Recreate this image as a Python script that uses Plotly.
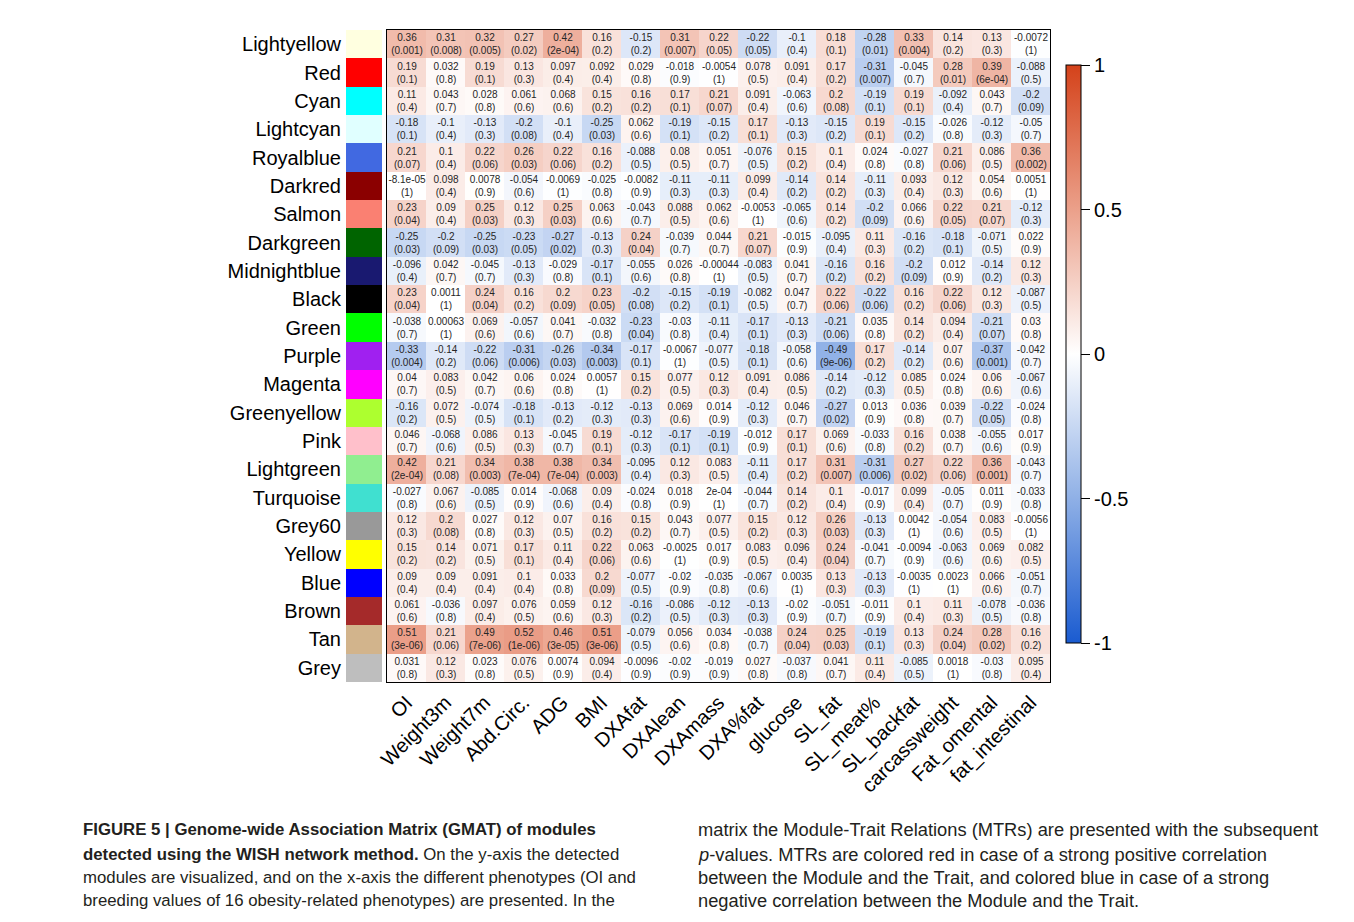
import numpy as np
import plotly.graph_objects as go

modules = ["Lightyellow", "Red", "Cyan", "Lightcyan", "Royalblue", "Darkred", "Salmon",
           "Darkgreen", "Midnightblue", "Black", "Green", "Purple", "Magenta", "Greenyellow",
           "Pink", "Lightgreen", "Turquoise", "Grey60", "Yellow", "Blue", "Brown", "Tan", "Grey"]
module_colors = ["#ffffe0", "#ff0000", "#00ffff", "#e0ffff", "#4169e1", "#8b0000", "#fa8072",
                 "#006400", "#191970", "#000000", "#00ff00", "#a020f0", "#ff00ff", "#adff2f",
                 "#ffc0cb", "#90ee90", "#40e0d0", "#999999", "#ffff00", "#0000ff", "#a52a2a",
                 "#d2b48c", "#bebebe"]
traits = ["OI", "Weight3m", "Weight7m", "Abd.Circ.", "ADG", "BMI", "DXAfat", "DXAlean",
          "DXAmass", "DXA%fat", "glucose", "SL_fat", "SL_meat%", "SL_backfat",
          "carcassweight", "Fat_omental", "fat_intestinal"]

corr = [
    [0.36, 0.31, 0.32, 0.27, 0.42, 0.16, -0.15, 0.31, 0.22, -0.22, -0.1, 0.18, -0.28, 0.33, 0.14, 0.13, -0.0072],
    [0.19, 0.032, 0.19, 0.13, 0.097, 0.092, 0.029, -0.018, -0.0054, 0.078, 0.091, 0.17, -0.31, -0.045, 0.28, 0.39, -0.088],
    [0.11, 0.043, 0.028, 0.061, 0.068, 0.15, 0.16, 0.17, 0.21, 0.091, -0.063, 0.2, -0.19, 0.19, -0.092, 0.043, -0.2],
    [-0.18, -0.1, -0.13, -0.2, -0.1, -0.25, 0.062, -0.19, -0.15, 0.17, -0.13, -0.15, 0.19, -0.15, -0.026, -0.12, -0.05],
    [0.21, 0.1, 0.22, 0.26, 0.22, 0.16, -0.088, 0.08, 0.051, -0.076, 0.15, 0.1, 0.024, -0.027, 0.21, 0.086, 0.36],
    [-8.1e-05, 0.098, 0.0078, -0.054, -0.0069, -0.025, -0.0082, -0.11, -0.11, 0.099, -0.14, 0.14, -0.11, 0.093, 0.12, 0.054, 0.0051],
    [0.23, 0.09, 0.25, 0.12, 0.25, 0.063, -0.043, 0.088, 0.062, -0.0053, -0.065, 0.14, -0.2, 0.066, 0.22, 0.21, -0.12],
    [-0.25, -0.2, -0.25, -0.23, -0.27, -0.13, 0.24, -0.039, 0.044, 0.21, -0.015, -0.095, 0.11, -0.16, -0.18, -0.071, 0.022],
    [-0.096, 0.042, -0.045, -0.13, -0.029, -0.17, -0.055, 0.026, -0.00044, -0.083, 0.041, -0.16, 0.16, -0.2, 0.012, -0.14, 0.12],
    [0.23, 0.0011, 0.24, 0.16, 0.2, 0.23, -0.2, -0.15, -0.19, -0.082, 0.047, 0.22, -0.22, 0.16, 0.22, 0.12, -0.087],
    [-0.038, 0.00063, 0.069, -0.057, 0.041, -0.032, -0.23, -0.03, -0.11, -0.17, -0.13, -0.21, 0.035, 0.14, 0.094, -0.21, 0.03],
    [-0.33, -0.14, -0.22, -0.31, -0.26, -0.34, -0.17, -0.0067, -0.077, -0.18, -0.058, -0.49, 0.17, -0.14, 0.07, -0.37, -0.042],
    [0.04, 0.083, 0.042, 0.06, 0.024, 0.0057, 0.15, 0.077, 0.12, 0.091, 0.086, -0.14, -0.12, 0.085, 0.024, 0.06, -0.067],
    [-0.16, 0.072, -0.074, -0.18, -0.13, -0.12, -0.13, 0.069, 0.014, -0.12, 0.046, -0.27, 0.013, 0.036, 0.039, -0.22, -0.024],
    [0.046, -0.068, 0.086, 0.13, -0.045, 0.19, -0.12, -0.17, -0.19, -0.012, 0.17, 0.069, -0.033, 0.16, 0.038, -0.055, 0.017],
    [0.42, 0.21, 0.34, 0.38, 0.38, 0.34, -0.095, 0.12, 0.083, -0.11, 0.17, 0.31, -0.31, 0.27, 0.22, 0.36, -0.043],
    [-0.027, 0.067, -0.085, 0.014, -0.068, 0.09, -0.024, 0.018, 2e-04, -0.044, 0.14, 0.1, -0.017, 0.099, -0.05, 0.011, -0.033],
    [0.12, 0.2, 0.027, 0.12, 0.07, 0.16, 0.15, 0.043, 0.077, 0.15, 0.12, 0.26, -0.13, 0.0042, -0.054, 0.083, -0.0056],
    [0.15, 0.14, 0.071, 0.17, 0.11, 0.22, 0.063, -0.0025, 0.017, 0.083, 0.096, 0.24, -0.041, -0.0094, -0.063, 0.069, 0.082],
    [0.09, 0.09, 0.091, 0.1, 0.033, 0.2, -0.077, -0.02, -0.035, -0.067, 0.0035, 0.13, -0.13, -0.0035, 0.0023, 0.066, -0.051],
    [0.061, -0.036, 0.097, 0.076, 0.059, 0.12, -0.16, -0.086, -0.12, -0.13, -0.02, -0.051, -0.011, 0.1, 0.11, -0.078, -0.036],
    [0.51, 0.21, 0.49, 0.52, 0.46, 0.51, -0.079, 0.056, 0.034, -0.038, 0.24, 0.25, -0.19, 0.13, 0.24, 0.28, 0.16],
    [0.031, 0.12, 0.023, 0.076, 0.0074, 0.094, -0.0096, -0.02, -0.019, 0.027, -0.037, 0.041, 0.11, -0.085, 0.0018, -0.03, 0.095],
]

pvals = [
    [0.001, 0.008, 0.005, 0.02, 2e-04, 0.2, 0.2, 0.007, 0.05, 0.05, 0.4, 0.1, 0.01, 0.004, 0.2, 0.3, 1],
    [0.1, 0.8, 0.1, 0.3, 0.4, 0.4, 0.8, 0.9, 1, 0.5, 0.4, 0.2, 0.007, 0.7, 0.01, 6e-04, 0.5],
    [0.4, 0.7, 0.8, 0.6, 0.6, 0.2, 0.2, 0.1, 0.07, 0.4, 0.6, 0.08, 0.1, 0.1, 0.4, 0.7, 0.09],
    [0.1, 0.4, 0.3, 0.08, 0.4, 0.03, 0.6, 0.1, 0.2, 0.1, 0.3, 0.2, 0.1, 0.2, 0.8, 0.3, 0.7],
    [0.07, 0.4, 0.06, 0.03, 0.06, 0.2, 0.5, 0.5, 0.7, 0.5, 0.2, 0.4, 0.8, 0.8, 0.06, 0.5, 0.002],
    [1, 0.4, 0.9, 0.6, 1, 0.8, 0.9, 0.3, 0.3, 0.4, 0.2, 0.2, 0.3, 0.4, 0.3, 0.6, 1],
    [0.04, 0.4, 0.03, 0.3, 0.03, 0.6, 0.7, 0.5, 0.6, 1, 0.6, 0.2, 0.09, 0.6, 0.05, 0.07, 0.3],
    [0.03, 0.09, 0.03, 0.05, 0.02, 0.3, 0.04, 0.7, 0.7, 0.07, 0.9, 0.4, 0.3, 0.2, 0.1, 0.5, 0.9],
    [0.4, 0.7, 0.7, 0.3, 0.8, 0.1, 0.6, 0.8, 1, 0.5, 0.7, 0.2, 0.2, 0.09, 0.9, 0.2, 0.3],
    [0.04, 1, 0.04, 0.2, 0.09, 0.05, 0.08, 0.2, 0.1, 0.5, 0.7, 0.06, 0.06, 0.2, 0.06, 0.3, 0.5],
    [0.7, 1, 0.6, 0.6, 0.7, 0.8, 0.04, 0.8, 0.4, 0.1, 0.3, 0.06, 0.8, 0.2, 0.4, 0.07, 0.8],
    [0.004, 0.2, 0.06, 0.006, 0.03, 0.003, 0.1, 1, 0.5, 0.1, 0.6, 9e-06, 0.2, 0.2, 0.6, 0.001, 0.7],
    [0.7, 0.5, 0.7, 0.6, 0.8, 1, 0.2, 0.5, 0.3, 0.4, 0.5, 0.2, 0.3, 0.5, 0.8, 0.6, 0.6],
    [0.2, 0.5, 0.5, 0.1, 0.2, 0.3, 0.3, 0.6, 0.9, 0.3, 0.7, 0.02, 0.9, 0.8, 0.7, 0.05, 0.8],
    [0.7, 0.6, 0.5, 0.3, 0.7, 0.1, 0.3, 0.1, 0.1, 0.9, 0.1, 0.6, 0.8, 0.2, 0.7, 0.6, 0.9],
    [2e-04, 0.08, 0.003, 7e-04, 7e-04, 0.003, 0.4, 0.3, 0.5, 0.4, 0.2, 0.007, 0.006, 0.02, 0.06, 0.001, 0.7],
    [0.8, 0.6, 0.5, 0.9, 0.6, 0.4, 0.8, 0.9, 1, 0.7, 0.2, 0.4, 0.9, 0.4, 0.7, 0.9, 0.8],
    [0.3, 0.08, 0.8, 0.3, 0.5, 0.2, 0.2, 0.7, 0.5, 0.2, 0.3, 0.03, 0.3, 1, 0.6, 0.5, 1],
    [0.2, 0.2, 0.5, 0.1, 0.4, 0.06, 0.6, 1, 0.9, 0.5, 0.4, 0.04, 0.7, 0.9, 0.6, 0.6, 0.5],
    [0.4, 0.4, 0.4, 0.4, 0.8, 0.09, 0.5, 0.9, 0.8, 0.6, 1, 0.3, 0.3, 1, 1, 0.6, 0.7],
    [0.6, 0.8, 0.4, 0.5, 0.6, 0.3, 0.2, 0.5, 0.3, 0.3, 0.9, 0.7, 0.9, 0.4, 0.3, 0.5, 0.8],
    [3e-06, 0.06, 7e-06, 1e-06, 3e-05, 3e-06, 0.5, 0.6, 0.8, 0.7, 0.04, 0.03, 0.1, 0.3, 0.04, 0.02, 0.2],
    [0.8, 0.3, 0.8, 0.5, 0.9, 0.4, 0.9, 0.9, 0.9, 0.8, 0.8, 0.7, 0.4, 0.5, 1, 0.8, 0.4],
]

colorbar_ticks = [-1, -0.5, 0, 0.5, 1]

caption_left = [
    "<b>FIGURE 5 | Genome-wide Association Matrix (GMAT) of modules</b>",
    "<b>detected using the WISH network method.</b> On the y-axis the detected",
    "modules are visualized, and on the x-axis the different phenotypes (OI and",
    "breeding values of 16 obesity-related phenotypes) are presented. In the",
]
caption_right = [
    "matrix the Module-Trait Relations (MTRs) are presented with the subsequent",
    "<i>p</i>-values. MTRs are colored red in case of a strong positive correlation",
    "between the Module and the Trait, and colored blue in case of a strong",
    "negative correlation between the Module and the Trait.",
]


def rfmt(v):
    """Mimic R's choice between fixed and scientific notation."""
    fixed = np.format_float_positional(v, trim='-')
    sci = np.format_float_scientific(v, trim='-', exp_digits=2)
    return fixed if len(fixed) <= len(sci) else sci


cell_text = [[f"{rfmt(c)}<br>({rfmt(p)})" for c, p in zip(rc, rp)] for rc, rp in zip(corr, pvals)]

W, H = 1354, 922
OFF = 8  # default page body margin
px = lambda x: (x - OFF) / W
py = lambda y: 1 - (y - OFF) / H

FONT = "Liberation Sans, Arial, Helvetica, sans-serif"

fig = go.Figure()

fig.add_trace(go.Heatmap(
    z=corr, x=traits, y=modules, text=cell_text, texttemplate="%{text}",
    textfont=dict(size=10, color="#262626", family=FONT),
    zmin=-1, zmax=1,
    colorscale=[[0, "#1a5bd0"], [0.25, "#8fb0e6"], [0.5, "#ffffff"], [0.75, "#eba08a"], [1, "#d4421a"]],
    xaxis="x", yaxis="y", hoverinfo="skip",
    colorbar=dict(
        x=px(1066), xanchor="left", y=py(354), yanchor="middle",
        len=578 / H, lenmode="fraction", thickness=15, xpad=0, ypad=0,
        outlinecolor="black", outlinewidth=1,
        tickvals=colorbar_ticks, ticktext=[str(t) for t in colorbar_ticks],
        ticks="outside", ticklen=9, tickwidth=1, tickcolor="black",
        tickfont=dict(size=20, color="black", family=FONT),
    ),
))

fig.add_trace(go.Bar(
    x=[1] * len(modules), y=modules, orientation="h", width=1,
    marker=dict(color=module_colors, line=dict(width=0)),
    xaxis="x2", yaxis="y2", showlegend=False, hoverinfo="skip",
))

dom_y = [py(682), py(30)]
fig.update_layout(
    template="none",
    width=W, height=H, margin=dict(l=0, r=0, t=0, b=0, pad=0),
    paper_bgcolor="white", plot_bgcolor="white",
    font=dict(family=FONT, color="black"),
    xaxis=dict(domain=[px(387), px(1050)], anchor="y", type="category", automargin=False,
               tickangle=-45, tickfont=dict(size=20, color="black", family=FONT),
               showgrid=False, zeroline=False, showline=True, mirror=True,
               linecolor="black", linewidth=1, ticks=""),
    yaxis=dict(domain=dom_y, anchor="x", type="category", autorange="reversed", automargin=False,
               showticklabels=False, showgrid=False, zeroline=False,
               showline=True, mirror=True, linecolor="black", linewidth=1, ticks=""),
    xaxis2=dict(domain=[px(346), px(382)], anchor="y2", range=[0, 1], visible=False,
                automargin=False),
    yaxis2=dict(domain=dom_y, anchor="x2", type="category", autorange="reversed", automargin=False,
                showgrid=False, zeroline=False, showline=False, ticks="", ticklabelstandoff=4,
                tickfont=dict(size=20, color="black", family=FONT)),
    bargap=0,
)

line_y = [829, 854, 877, 900]
for txt, yy in zip(caption_left, line_y):
    fig.add_annotation(text=txt, x=px(82), y=py(yy), xref="paper", yref="paper",
                       xanchor="left", yanchor="middle", showarrow=False, align="left",
                       borderpad=0, font=dict(size=16.8, color="#231f20", family=FONT))
for txt, yy in zip(caption_right, line_y):
    fig.add_annotation(text=txt, x=px(697), y=py(yy), xref="paper", yref="paper",
                       xanchor="left", yanchor="middle", showarrow=False, align="left",
                       borderpad=0, font=dict(size=18.3, color="#231f20", family=FONT))

fig.write_html("out.html")
